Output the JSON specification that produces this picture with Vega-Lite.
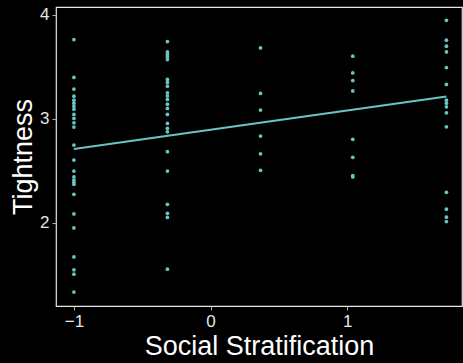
{
  "$schema": "https://vega.github.io/schema/vega-lite/v6.json",
  "width": 406,
  "height": 299,
  "autosize": {"type": "none"},
  "padding": {"left": 56, "top": 7, "right": 1, "bottom": 57},
  "background": "#000000",
  "config": {
    "view": {"stroke": "#e6e6e6", "strokeWidth": 1.2},
    "font": "Liberation Sans",
    "axis": {
      "domain": false,
      "grid": false,
      "tickColor": "#aaaaaa",
      "tickSize": 4,
      "labelColor": "#e6e6e6",
      "labelFontSize": 17,
      "labelFont": "Liberation Sans",
      "titleColor": "#ffffff",
      "titleFontSize": 27,
      "titleFontWeight": "normal",
      "titleFont": "Liberation Sans"
    }
  },
  "datasets": {
    "pts": [
      {"x": -1, "y": 3.763}, {"x": -1, "y": 3.398}, {"x": -1, "y": 3.286}, {"x": -1, "y": 3.218},
      {"x": -1, "y": 3.18}, {"x": -1, "y": 3.151}, {"x": -1, "y": 3.122}, {"x": -1, "y": 3.093},
      {"x": -1, "y": 3.042}, {"x": -1, "y": 3.004}, {"x": -1, "y": 2.962}, {"x": -1, "y": 2.92},
      {"x": -1, "y": 2.747}, {"x": -1, "y": 2.603}, {"x": -1, "y": 2.497}, {"x": -1, "y": 2.44},
      {"x": -1, "y": 2.41}, {"x": -1, "y": 2.39}, {"x": -1, "y": 2.369}, {"x": -1, "y": 2.273},
      {"x": -1, "y": 2.084}, {"x": -1, "y": 1.949}, {"x": -1, "y": 1.67}, {"x": -1, "y": 1.546},
      {"x": -1, "y": 1.504}, {"x": -1, "y": 1.331},
      {"x": -0.316, "y": 3.744}, {"x": -0.316, "y": 3.644}, {"x": -0.316, "y": 3.62}, {"x": -0.316, "y": 3.596},
      {"x": -0.316, "y": 3.571}, {"x": -0.316, "y": 3.379}, {"x": -0.316, "y": 3.35}, {"x": -0.316, "y": 3.314},
      {"x": -0.316, "y": 3.25}, {"x": -0.316, "y": 3.22}, {"x": -0.316, "y": 3.187}, {"x": -0.316, "y": 3.141},
      {"x": -0.316, "y": 3.1}, {"x": -0.316, "y": 3.042}, {"x": -0.316, "y": 2.956}, {"x": -0.316, "y": 2.908},
      {"x": -0.316, "y": 2.875}, {"x": -0.316, "y": 2.683}, {"x": -0.316, "y": 2.497}, {"x": -0.316, "y": 2.177},
      {"x": -0.316, "y": 2.09}, {"x": -0.316, "y": 2.05}, {"x": -0.316, "y": 1.552},
      {"x": 0.365, "y": 3.683}, {"x": 0.365, "y": 3.244}, {"x": 0.365, "y": 3.084}, {"x": 0.365, "y": 2.834},
      {"x": 0.365, "y": 2.663}, {"x": 0.365, "y": 2.504},
      {"x": 1.04, "y": 3.603}, {"x": 1.04, "y": 3.442}, {"x": 1.04, "y": 3.369}, {"x": 1.04, "y": 3.269},
      {"x": 1.04, "y": 2.802}, {"x": 1.04, "y": 2.629}, {"x": 1.04, "y": 2.452}, {"x": 1.04, "y": 2.44},
      {"x": 1.725, "y": 3.949}, {"x": 1.725, "y": 3.757}, {"x": 1.725, "y": 3.7}, {"x": 1.725, "y": 3.644},
      {"x": 1.725, "y": 3.494}, {"x": 1.725, "y": 3.331}, {"x": 1.725, "y": 3.18}, {"x": 1.725, "y": 3.15},
      {"x": 1.725, "y": 3.115}, {"x": 1.725, "y": 3.058}, {"x": 1.725, "y": 2.923}, {"x": 1.725, "y": 2.292},
      {"x": 1.725, "y": 2.129}, {"x": 1.725, "y": 2.052}, {"x": 1.725, "y": 2.01}
    ],
    "fit": [
      {"x": -1, "y": 2.709},
      {"x": 1.725, "y": 3.215}
    ]
  },
  "layer": [
    {
      "data": {"name": "pts"},
      "mark": {"type": "circle", "size": 14, "color": "#67C5C2", "opacity": 1},
      "encoding": {
        "x": {
          "field": "x", "type": "quantitative",
          "scale": {"domain": [-1.131, 1.839], "nice": false, "zero": false},
          "axis": {"values": [-1, 0, 1], "format": "d", "title": "Social Stratification", "labelPadding": 3,
                   "titleBaseline": "alphabetic", "titleY": 48}
        },
        "y": {
          "field": "y", "type": "quantitative",
          "scale": {"domain": [1.197, 4.077], "nice": false, "zero": false},
          "axis": {"values": [2, 3, 4], "format": "d", "title": "Tightness", "labelPadding": 3,
                   "titleBaseline": "alphabetic", "titleX": -25}
        }
      }
    },
    {
      "data": {"name": "fit"},
      "mark": {"type": "line", "color": "#67C5C2", "strokeWidth": 2},
      "encoding": {
        "x": {"field": "x", "type": "quantitative"},
        "y": {"field": "y", "type": "quantitative"}
      }
    }
  ]
}
